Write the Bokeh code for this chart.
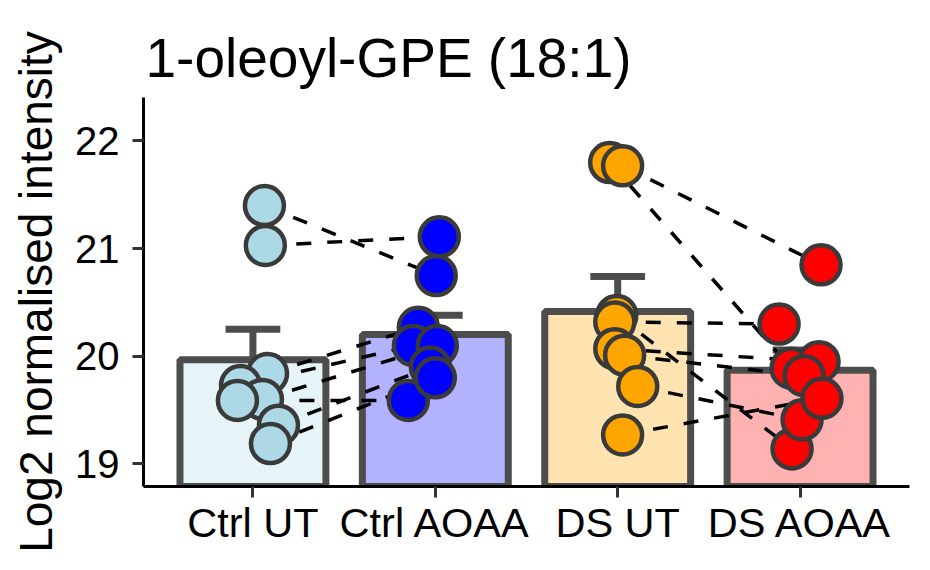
import numpy as np
from bokeh.plotting import figure
from bokeh.models import Range1d, FixedTicker
from bokeh.embed import file_html
from bokeh.resources import INLINE

# ---- data ----
title_text = "1-oleoyl-GPE (18:1)"
categories = ["Ctrl UT", "Ctrl AOAA", "DS UT", "DS AOAA"]
ctrl_ut = [21.40, 21.03, 19.84, 19.73, 19.60, 19.59, 19.36, 19.19]
ctrl_aoaa = [20.75, 21.11, 20.27, 20.10, 20.10, 19.59, 19.90, 19.80]
ds_ut = [21.80, 21.77, 20.38, 20.32, 20.07, 20.01, 19.72, 19.27]
ds_aoaa = [19.89, 20.85, 19.14, 20.30, 19.95, 19.82, 19.41, 19.61]
# horizontal jitter of each point (category units)
ctrl_ut_jit = [0.063, 0.068, 0.080, -0.068, 0.052, -0.085, 0.140, 0.096]
ctrl_aoaa_jit = [0.005, 0.022, -0.093, -0.120, 0.011, -0.148, -0.027, 0.000]
ds_ut_jit = [-0.044, 0.027, -0.005, -0.016, -0.016, 0.038, 0.110, 0.027]
ds_aoaa_jit = [-0.049, 0.115, -0.044, -0.115, 0.104, 0.022, 0.011, 0.120]
point_colors = ["#ADD8E6", "#0000FF", "#FFA500", "#FF0000"]
y_ticks = [19, 20, 21, 22]

groups = [ctrl_ut, ctrl_aoaa, ds_ut, ds_aoaa]
jits = [ctrl_ut_jit, ctrl_aoaa_jit, ds_ut_jit, ds_aoaa_jit]
xpos = [1, 2, 3, 4]
means = [float(np.mean(g)) for g in groups]
ses = [float(np.std(g, ddof=1) / np.sqrt(len(g))) for g in groups]

FONT = "Liberation Sans"

p = figure(width=918, height=560, output_backend="svg", toolbar_location=None,
           x_range=Range1d(0.4, 4.6), y_range=Range1d(18.791, 22.404),
           min_border_left=143, min_border_right=9, min_border_top=97,
           min_border_bottom=74, title=title_text)
p.outline_line_color = None
p.xgrid.visible = False
p.ygrid.visible = False
p.background_fill_color = "white"
p.border_fill_color = "white"

p.title.text_font = FONT
p.title.text_font_size = "55px"
p.title.text_font_style = "normal"
p.title.text_color = "black"
p.title.align = "left"
p.title.vertical_align = "middle"
p.title.offset = 2
p.title.standoff = 16

# bars
p.vbar(x=xpos, width=0.8, top=means, bottom=18.0, fill_color=point_colors,
       fill_alpha=0.3, line_color="#4D4D4D", line_width=7)
# upper error bars
tops = [m + s for m, s in zip(means, ses)]
p.segment(x0=xpos, y0=means, x1=xpos, y1=tops, line_color="#4D4D4D",
          line_width=7)
p.segment(x0=[x - 0.15 for x in xpos], y0=tops, x1=[x + 0.15 for x in xpos],
          y1=tops, line_color="#4D4D4D", line_width=7)

# paired dashed lines
for a, b in [(0, 1), (2, 3)]:
    x0 = [xpos[a] + j for j in jits[a]]
    x1 = [xpos[b] + j for j in jits[b]]
    p.segment(x0=x0, y0=groups[a], x1=x1, y1=groups[b], line_color="black",
              line_width=3.5, line_dash="15 16")

# points
for i, (g, jt) in enumerate(zip(groups, jits)):
    xs = [xpos[i] + j for j in jt]
    p.scatter(x=xs, y=g, size=39, fill_color=point_colors[i],
              line_color="#3A3A3A", line_width=4.5)

# axes
for ax in (p.xaxis[0], p.yaxis[0]):
    ax.axis_line_color = "black"
    ax.axis_line_width = 3
    ax.major_tick_line_color = "#333333"
    ax.major_tick_line_width = 3
    ax.major_tick_out = 11
    ax.major_tick_in = 0
    ax.minor_tick_line_color = None
    ax.major_label_text_font = FONT
    ax.major_label_text_color = "black"

p.xaxis.major_label_text_font_size = "41.5px"
p.yaxis.major_label_text_font_size = "40px"
p.xaxis.ticker = FixedTicker(ticks=xpos)
p.xaxis.major_label_overrides = {x: c for x, c in zip(xpos, categories)}
p.xaxis.major_label_standoff = 1
p.yaxis.ticker = FixedTicker(ticks=y_ticks)
p.yaxis.major_label_standoff = 13
p.yaxis.axis_label = "Log2 normalised intensity"
p.yaxis.axis_label_text_font = FONT
p.yaxis.axis_label_text_font_size = "46px"
p.yaxis.axis_label_text_font_style = "normal"
p.yaxis.axis_label_text_color = "black"
p.yaxis.axis_label_standoff = 10

open("out.html", "w").write(file_html(p, INLINE))
